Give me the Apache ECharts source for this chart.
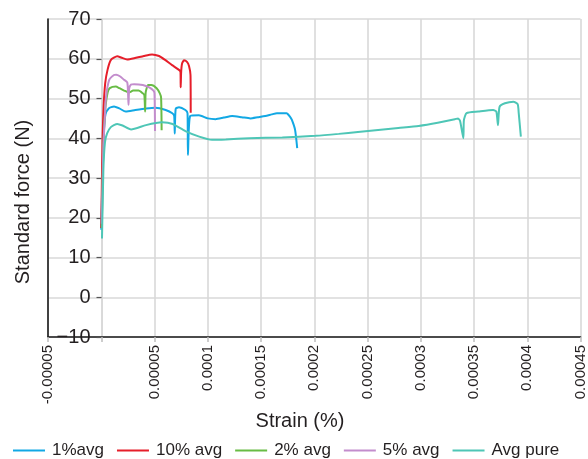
<!DOCTYPE html>
<html>
<head>
<meta charset="utf-8">
<script src="https://cdn.jsdelivr.net/npm/echarts@6/dist/echarts.min.js"></script>
<style>
  html, body { margin: 0; padding: 0; background: #fff; }
  #chart { width: 588px; height: 459px; }
</style>
</head>
<body>
<div id="chart"></div>
<script>
// Strain values are listed in units of 1e-5 (%), force in N.
const STRAIN_UNIT = 1e-5;

const seriesNames = ['1%avg', '10% avg', '2% avg', '5% avg', 'Avg pure'];

const strain1 = [0, 0.15, 0.25, 0.4, 0.7, 1.2, 1.7, 2.3, 3.2, 4.2, 5.1, 6.05, 6.67, 6.85, 6.9, 6.99, 7.3, 7.9, 8.1, 8.14, 8.35, 9.17, 10.0, 10.74, 11.5, 12.29, 13.2, 14.0, 14.7, 15.4, 16.0, 16.5, 17.4, 17.7, 17.9, 18.2, 18.4];
const force1  = [17, 35, 42, 46, 47.5, 48.0, 47.5, 46.7, 47.1, 47.5, 47.7, 47.1, 46.3, 45.6, 41.2, 47.4, 47.8, 47.1, 46.3, 35.8, 45.6, 45.8, 45.0, 44.8, 45.2, 45.6, 45.3, 45.0, 45.3, 45.6, 46.0, 46.3, 46.3, 45.5, 44.6, 42.1, 37.5];

const strain10 = [0, 0.12, 0.22, 0.37, 0.59, 0.91, 1.5, 1.87, 2.43, 3.09, 4.0, 4.77, 5.43, 6.0, 6.65, 7.3, 7.44, 7.46, 7.5, 7.58, 7.77, 8.05, 8.24, 8.38, 8.4];
const force10  = [17.4, 39.6, 47.9, 53.8, 57.2, 59.7, 60.6, 60.3, 59.8, 60.1, 60.7, 61.1, 60.7, 59.7, 58.4, 57.2, 56.7, 52.8, 56.5, 58.7, 59.6, 59.2, 58.2, 55.9, 46.4];

const strain2 = [0.05, 0.2, 0.4, 0.6, 0.8, 1.37, 1.7, 2.15, 2.6, 3.0, 3.5, 3.9, 4.05, 4.12, 4.17, 4.4, 4.7, 5.2, 5.5, 5.62, 5.67];
const force2  = [17.5, 38, 48, 51.5, 52.6, 53.0, 52.6, 52.0, 51.5, 52.0, 52.0, 51.3, 50.8, 46.7, 51.5, 53.4, 53.4, 52.6, 51.3, 50.2, 42.0];

const strain5 = [0.05, 0.2, 0.35, 0.45, 0.75, 1.2, 1.4, 1.75, 2.1, 2.45, 2.56, 2.62, 2.8, 3.09, 3.9, 4.5, 4.9, 5.0, 5.05];
const force5  = [18.5, 38, 46, 50.5, 54.7, 55.9, 56.0, 55.6, 54.8, 54.0, 48.4, 52.5, 53.5, 53.6, 53.4, 52.8, 52.0, 51.3, 41.8];

const strainPure = [0.07, 0.2, 0.35, 0.55, 0.9, 1.5, 2.0, 2.8, 4.2, 5.7, 6.7, 7.9, 9.2, 10.4, 11.7, 13.9, 17.0, 20.1, 22.3, 24.1, 26.0, 27.9, 29.8, 31.6, 33.2, 33.5, 33.7, 34.0, 34.05, 34.3, 35.4, 36.8, 37.1, 37.25, 37.4, 37.9, 38.7, 39.1, 39.2, 39.4];
const forcePure  = [14.8, 32, 39, 41.2, 42.8, 43.6, 43.2, 42.2, 43.3, 44.0, 43.6, 41.8, 40.4, 39.6, 39.7, 40.0, 40.2, 40.6, 41.1, 41.6, 42.1, 42.6, 43.1, 43.9, 44.8, 45.0, 44.3, 40.0, 44.5, 46.3, 46.7, 47.1, 46.7, 43.3, 47.9, 48.8, 49.2, 48.6, 46.3, 40.4];

const xTickLabels = ['-0.00005', '', '0.00005', '0.0001', '0.00015', '0.0002', '0.00025', '0.0003', '0.00035', '0.0004', '0.00045'];
const yTickLabels = ['\u221210', '0', '10', '20', '30', '40', '50', '60', '70'];

const colors = ['#12a8e4', '#e61e2a', '#68bc45', '#c38dcd', '#4ec6b6'];
const FONT = '"Liberation Sans", Arial, Helvetica, sans-serif';
const TEXT = '#231f20';
const GRID = '#d9d9d9';

const xMin = -0.00005, xMax = 0.00045, xStep = 0.00005;
const yMin = -10, yMax = 70, yStep = 10;

const GRID_LEFT = 48, GRID_RIGHT = 5;
const plotWidth = 588 - GRID_LEFT - GRID_RIGHT;
// the force axis sits where strain = 0
const zeroOffset = plotWidth * (0 - xMin) / (xMax - xMin);

function pairs(strain, force) {
  return strain.map((s, i) => [s * STRAIN_UNIT, force[i]]);
}
const seriesData = [
  pairs(strain1, force1),
  pairs(strain10, force10),
  pairs(strain2, force2),
  pairs(strain5, force5),
  pairs(strainPure, forcePure)
];

const chart = echarts.init(document.getElementById('chart'), null, { renderer: 'canvas' });

chart.setOption({
  animation: false,
  color: colors,
  textStyle: { fontFamily: FONT },
  grid: { left: GRID_LEFT, right: GRID_RIGHT, top: 19, bottom: 122, containLabel: false },
  xAxis: {
    type: 'value',
    min: xMin, max: xMax, interval: xStep,
    axisLine: { onZero: false, lineStyle: { color: '#1a1a1a', width: 1.6 } },
    axisTick: { show: true, length: 5, lineStyle: { color: '#bdbdbd', width: 1.5 } },
    splitLine: { show: true, lineStyle: { color: GRID, width: 1.6 } },
    axisLabel: {
      rotate: 90, margin: 8, fontSize: 15, color: TEXT, fontFamily: FONT,
      formatter: v => xTickLabels[Math.round((v - xMin) / xStep)] || ''
    }
  },
  yAxis: [
    {
      type: 'value',
      position: 'left',
      offset: -zeroOffset,
      min: yMin, max: yMax, interval: yStep,
      axisLine: { show: true, onZero: false, lineStyle: { color: GRID, width: 1.6 } },
      axisTick: { show: true, length: 5, lineStyle: { color: '#555', width: 1.2 } },
      splitLine: { show: true, lineStyle: { color: GRID, width: 1.6 } },
      axisLabel: {
        margin: 11, fontSize: 20, color: TEXT, fontFamily: FONT,
        formatter: v => yTickLabels[Math.round((v - yMin) / yStep)]
      }
    },
    {
      type: 'value',
      position: 'left',
      min: yMin, max: yMax, interval: yStep,
      axisLine: { show: true, onZero: false, lineStyle: { color: '#1a1a1a', width: 1.6 } },
      axisTick: { show: false },
      axisLabel: { show: false },
      splitLine: { show: false }
    }
  ],
  legend: {
    top: 437, left: 8,
    icon: 'rect', itemWidth: 32, itemHeight: 2, itemGap: 13,
    textStyle: { fontSize: 17, color: TEXT, fontFamily: FONT, padding: [0, 0, 0, 2] },
    data: seriesNames
  },
  graphic: [
    {
      type: 'text', x: 300, y: 421,
      style: { text: 'Strain (%)', font: '20px ' + FONT, fill: TEXT, textAlign: 'center', textVerticalAlign: 'middle' }
    },
    {
      type: 'text', x: 23, y: 202, rotation: Math.PI / 2,
      style: { text: 'Standard force (N)', font: '20px ' + FONT, fill: TEXT, textAlign: 'center', textVerticalAlign: 'middle' }
    }
  ],
  series: seriesNames.map((name, i) => ({
    name,
    type: 'line',
    yAxisIndex: 0,
    data: seriesData[i],
    showSymbol: false,
    symbol: 'none',
    smooth: 0.2,
    lineStyle: { width: 2 }
  }))
});
</script>
</body>
</html>
